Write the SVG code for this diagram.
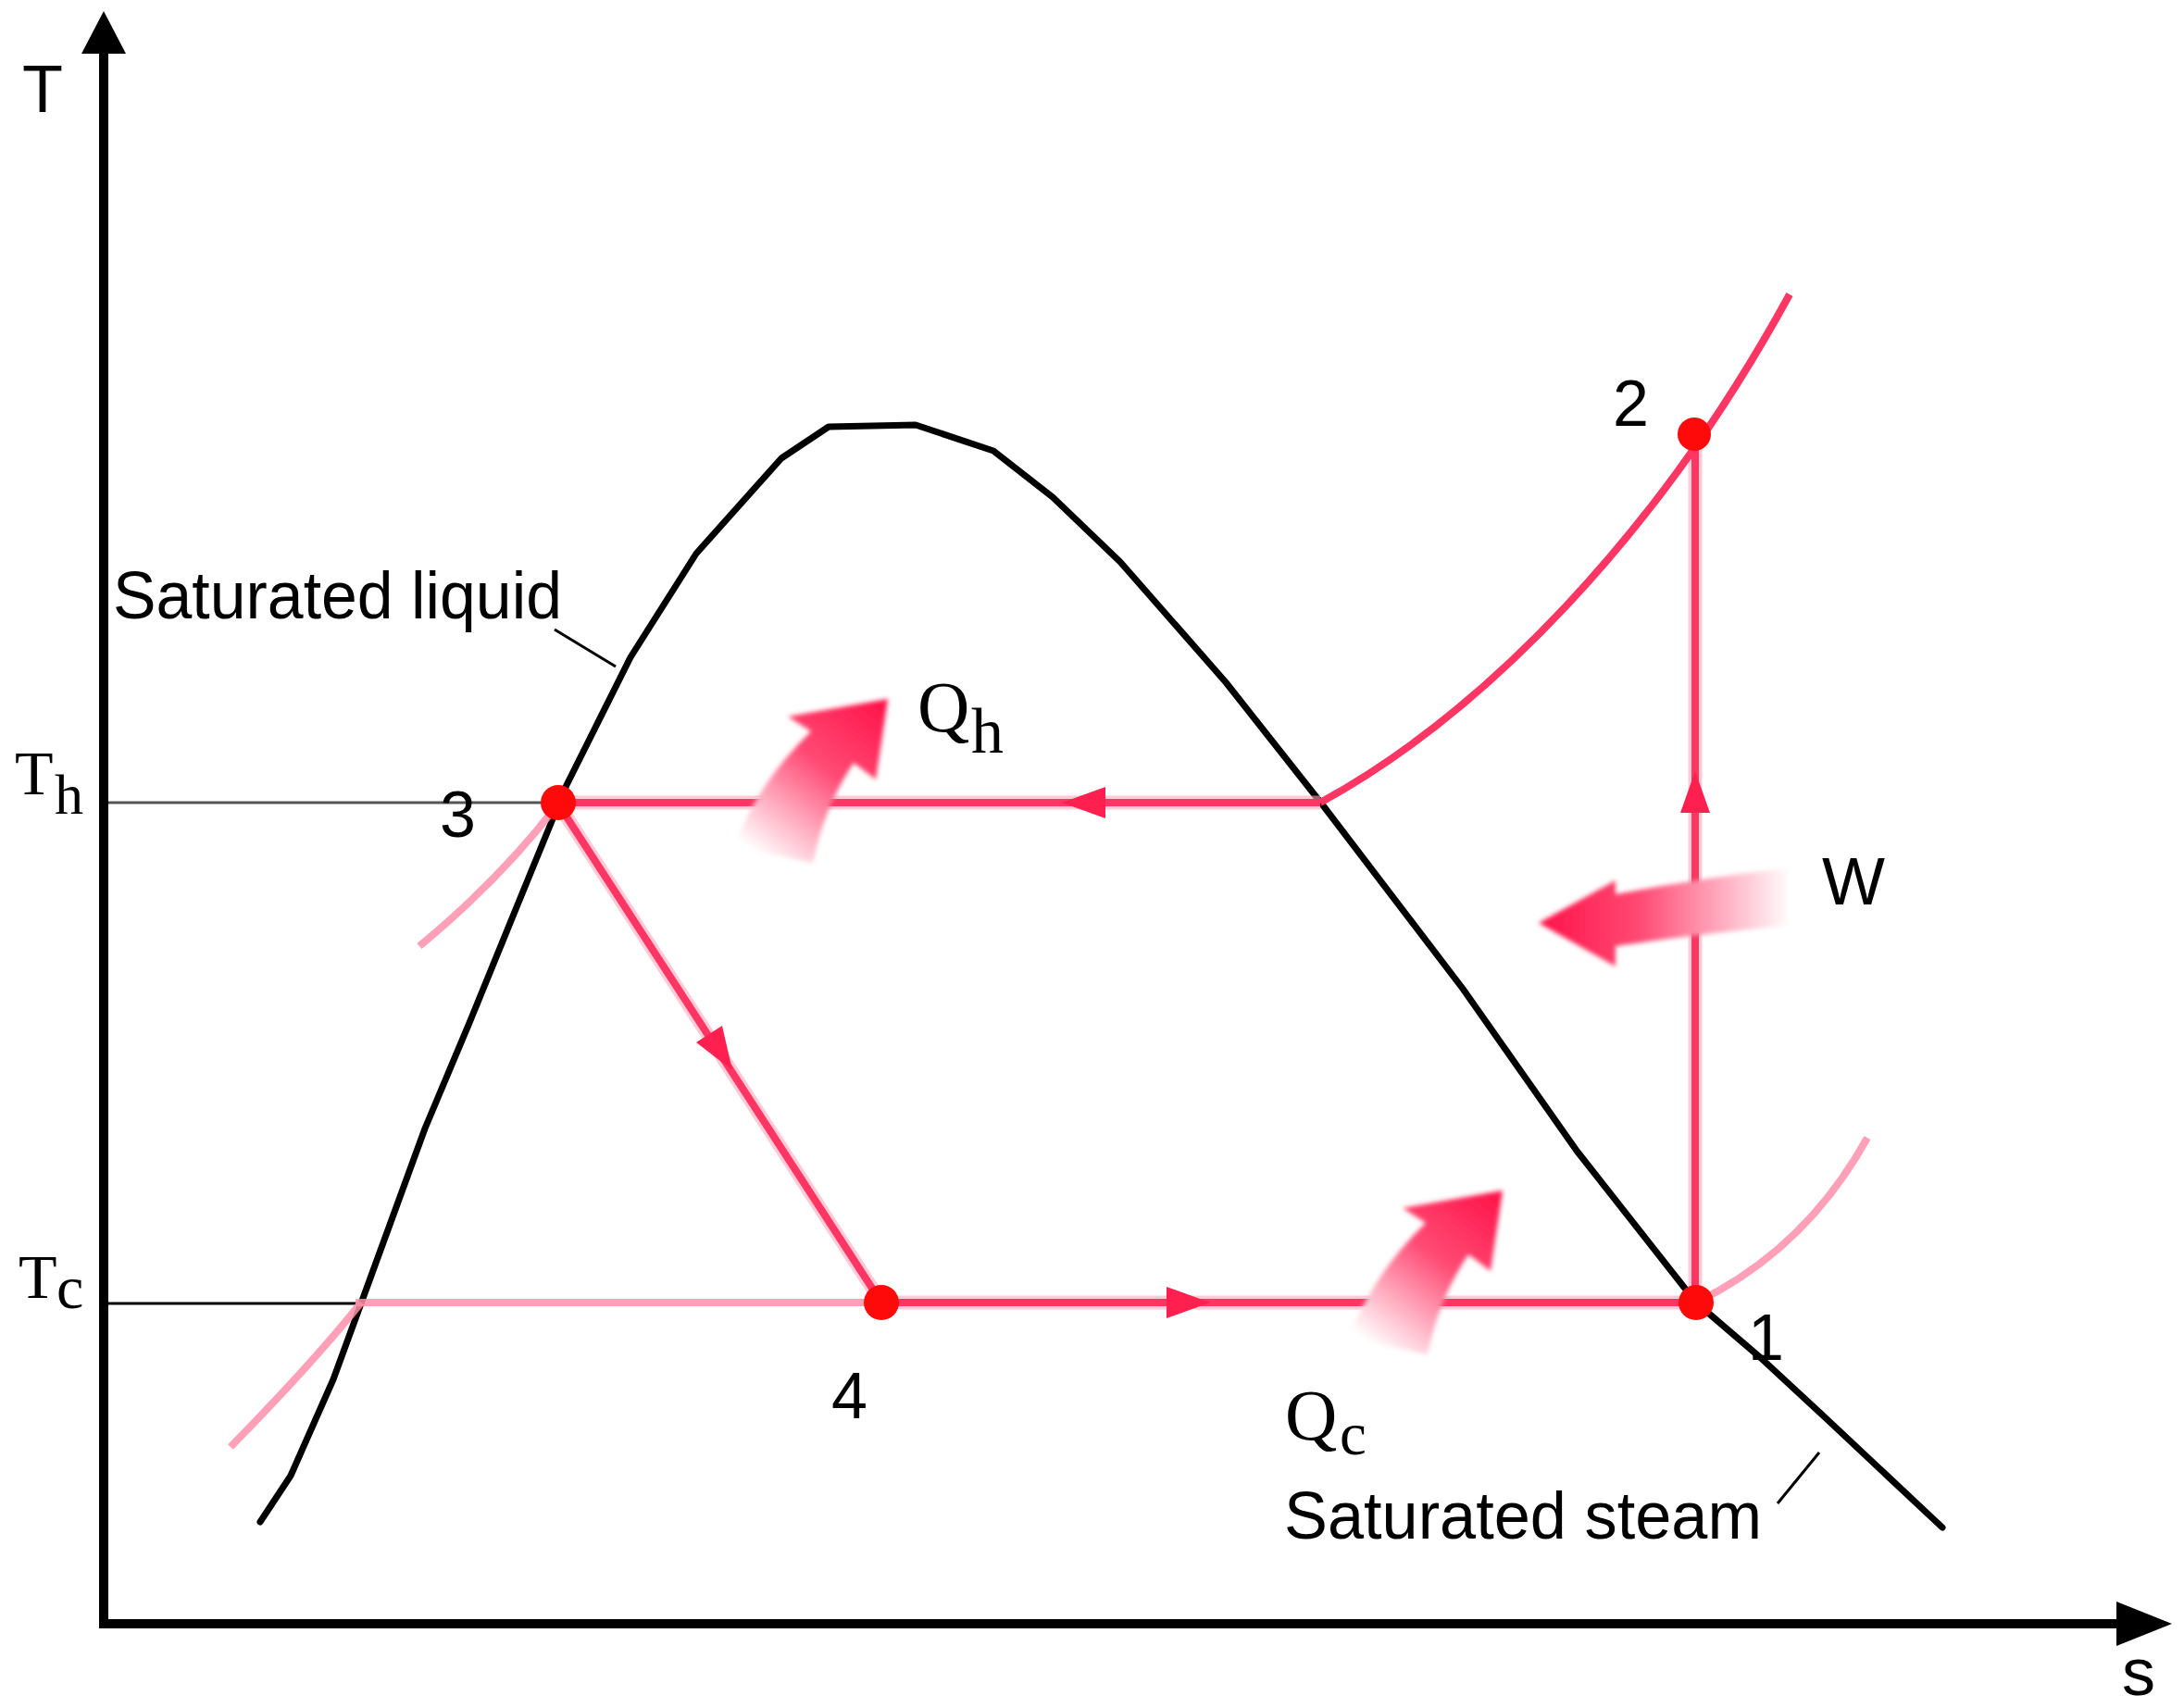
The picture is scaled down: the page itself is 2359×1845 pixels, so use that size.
<svg xmlns="http://www.w3.org/2000/svg" width="2359" height="1845" viewBox="0 0 2359 1845">
<style>
.sans{font-family:"Liberation Sans",Arial,sans-serif;fill:#000}
.serif{font-family:"Liberation Serif","Times New Roman",serif;fill:#000}
.dome{fill:none;stroke:#000;stroke-width:7;stroke-linejoin:round;stroke-linecap:round}
.halo{fill:none;stroke:#ffa8bc;stroke-width:15;opacity:.6}
.cyc{fill:none;stroke:#ff3663;stroke-width:8}
.faint{fill:none;stroke:#ff8fab;stroke-width:8;opacity:.85}
.mk{fill:#ff2050}
.dot{fill:#ff0a0a}
.thin{stroke-width:3;fill:none}
</style>
<defs>
<linearGradient id="gQ" gradientUnits="userSpaceOnUse" x1="957" y1="757" x2="828" y2="930">
<stop offset="0" stop-color="#ff1248"/>
<stop offset="0.45" stop-color="#ff4a74"/>
<stop offset="1" stop-color="#ffffff"/>
</linearGradient>
<linearGradient id="gW" gradientUnits="userSpaceOnUse" x1="1662" y1="0" x2="1935" y2="0">
<stop offset="0" stop-color="#ff1248"/>
<stop offset="0.4" stop-color="#ff4a74"/>
<stop offset="1" stop-color="#ffffff"/>
</linearGradient>
<filter id="soft" x="-10%" y="-10%" width="120%" height="120%">
<feGaussianBlur stdDeviation="2.5"/>
</filter>
<path id="qarrow" d="M959,755 L946,842 L922,824 Q890,872 878,932 L793,915 Q818,846 876,790 L851,774 Z"/>
</defs>
<rect width="2359" height="1845" fill="#fff"/>

<g id="axes">
<line x1="112" y1="55" x2="112" y2="1758" stroke="#000" stroke-width="10"/>
<polygon points="112,12 88,58 136,58" fill="#000"/>
<line x1="107" y1="1754" x2="2290" y2="1754" stroke="#000" stroke-width="10"/>
<polygon points="2346,1754 2286,1730 2286,1778" fill="#000"/>
<text class="sans" x="24" y="121" font-size="72">T</text>
<text class="sans" x="2292" y="1831" font-size="72">s</text>
</g>

<g id="dome">
<path class="dome" d="M281,1644 L314,1594 L360,1490 L390,1408 L459,1219 L509,1100 L560,975 L612,848 L681,710 L752,598 L844,495 L895,461 L989,459 L1073,487 L1137,537 L1210,607 L1324,737 L1429,870 L1580,1068 L1703,1243 L1832,1407 L1902,1467 L1969,1529 L2098,1650"/>
<line x1="599" y1="680" x2="665" y2="720" stroke="#000" stroke-width="3"/>
<line x1="1920" y1="1624" x2="1965" y2="1569" stroke="#000" stroke-width="3"/>
<text class="sans" x="122" y="668" font-size="72" textLength="485" lengthAdjust="spacingAndGlyphs">Saturated liquid</text>
<text class="sans" x="1387" y="1662" font-size="72" textLength="516" lengthAdjust="spacingAndGlyphs">Saturated steam</text>
</g>

<g id="levels">
<line class="thin" x1="117" y1="867" x2="590" y2="867" stroke="#555"/>
<line class="thin" x1="117" y1="1408" x2="390" y2="1408" stroke="#000"/>
<text class="serif" x="16" y="858" font-size="68">T</text>
<text class="serif" x="59" y="879" font-size="62">h</text>
<text class="serif" x="20" y="1402" font-size="68">T</text>
<text class="serif" x="61" y="1413" font-size="66">c</text>
</g>

<g id="connectors">
<path class="faint" d="M453,1022 Q540,950 600,872"/>
<path class="faint" d="M249,1563 Q340,1470 390,1407"/>
<path class="faint" d="M1832,1407 Q1950,1350 2017,1229"/>
<path class="faint" d="M384,1407 H952"/>
<path class="halo" d="M602,867 H1426"/>
<path class="halo" d="M602,867 L952,1407"/>
<path class="halo" d="M952,1407 H1832"/>
<path class="halo" d="M1831,469 V1407"/>
<path class="cyc" d="M602,867 H1426"/>
<path class="cyc" d="M602,867 L952,1407"/>
<path class="cyc" d="M952,1407 H1832"/>
<path class="cyc" d="M1831,469 V1407"/>
<path class="cyc" stroke-width="7" d="M1426,867 C1600,772 1790,580 1933,318"/>
<polygon class="mk" points="1147,867 1194,850 1194,884"/>
<polygon class="mk" points="1831,833 1815,878 1847,878"/>
<polygon class="mk" points="1307,1407 1260,1390 1260,1424"/>
<polygon class="mk" points="791,1156 752,1126 780,1108"/>
</g>

<g id="heat-flows" filter="url(#soft)">
<use href="#qarrow" fill="url(#gQ)"/>
<use href="#qarrow" fill="url(#gQ)" transform="translate(664,531)"/>
<path fill="url(#gW)" d="M1662,997 L1745,951 L1745,966 Q1840,948 1930,938 L1930,1000 Q1840,1008 1745,1022 L1745,1044 Z"/>
</g>

<g id="point-1">
<circle class="dot" cx="1832" cy="1407" r="19"/>
<text class="sans" x="1888" y="1469" font-size="70">1</text>
</g>
<g id="point-2">
<circle class="dot" cx="1830" cy="469" r="18"/>
<text class="sans" x="1742" y="460" font-size="70">2</text>
</g>
<g id="point-3">
<circle class="dot" cx="603" cy="867" r="19"/>
<text class="sans" x="475" y="904" font-size="70">3</text>
</g>
<g id="point-4">
<circle class="dot" cx="952" cy="1407" r="19"/>
<text class="sans" x="898" y="1532" font-size="70">4</text>
</g>

<g id="labels">
<text class="serif" x="991" y="790" font-size="78">Q</text>
<text class="serif" x="1049" y="813" font-size="70">h</text>
<text class="serif" x="1388" y="1555" font-size="78">Q</text>
<text class="serif" x="1447" y="1571" font-size="65">c</text>
<text class="sans" x="1968" y="977" font-size="72">W</text>
</g>
</svg>
